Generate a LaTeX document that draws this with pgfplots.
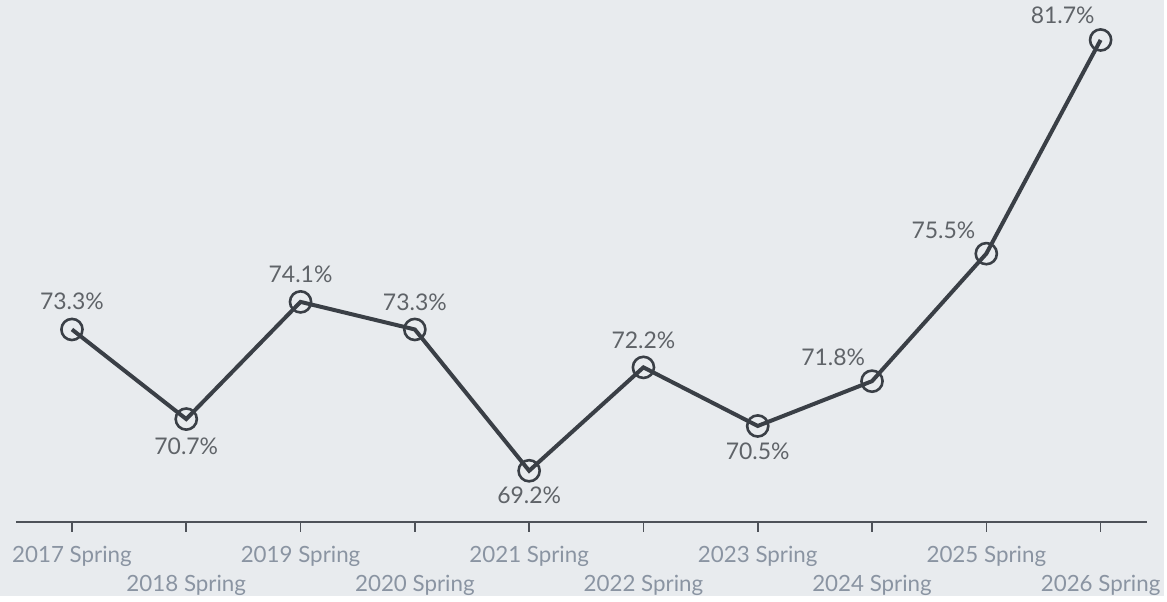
\documentclass[border=0pt]{standalone}
\usepackage{pgfplots}
\pgfplotsset{compat=1.18}
\usepackage{pgfplotstable}
\usepackage{fontspec}
\setmainfont{Lato}
\definecolor{bg}{HTML}{E8EBEE}
\definecolor{linec}{HTML}{3A3F46}
\definecolor{tickc}{HTML}{8A94A2}
\definecolor{labc}{HTML}{5F6368}
\pgfplotstableread{
x y lab dx dy
0 73.3 73.3\% 0 14
1 70.7 70.7\% 0 -13.5
2 74.1 74.1\% 0 14
3 73.3 73.3\% 0 13.5
4 69.2 69.2\% 0 -12.5
5 72.2 72.2\% 0 13.5
6 70.5 70.5\% 0 -12.5
7 71.8 71.8\% -19.5 12
8 75.5 75.5\% -21.5 11.5
9 81.7 81.7\% -19 12.5
}\datatable
\begin{document}
\begin{tikzpicture}
\fill[bg] (0,0) rectangle (583.5pt,298.5pt);
\begin{axis}[
  at={(8pt,37pt)}, anchor=south west,
  scale only axis, width=567.3pt, height=261.6pt,
  xmin=-0.49, xmax=9.41, ymin=67.72, ymax=82.86,
  clip=false,
  axis x line*=bottom, axis y line=none,
  x axis line style={draw=linec!90, line width=1pt},
  xtick={0,2,4,6,8},
  xticklabels={2017 Spring,2019 Spring,2021 Spring,2023 Spring,2025 Spring},
  extra x ticks={1,3,5,7,9},
  extra x tick labels={2018 Spring,2020 Spring,2022 Spring,2024 Spring,2026 Spring},
  extra x tick style={xticklabel style={yshift=-14.5pt}},
  tick align=outside, major tick length=5pt,
  tick style={draw=linec!90, line width=0.8pt},
  xticklabel style={anchor=base, yshift=-15.3pt, font=\fontsize{11.2}{13}\selectfont, text=tickc},
  ytick=\empty,
]
\addplot[color=linec, line width=2pt, mark=o, mark size=5.3pt,
  mark options={line width=1.3pt, fill=none},
  point meta=explicit symbolic,
  visualization depends on={\thisrow{dx} \as \dx},
  visualization depends on={\thisrow{dy} \as \dy},
  nodes near coords,
  every node near coord/.append style={anchor=center, xshift=\dx pt, yshift=\dy pt,
    font=\fontsize{11.5}{13}\selectfont, text=labc},
] table[x=x, y=y, meta=lab] {\datatable};
\end{axis}
\end{tikzpicture}
\end{document}
